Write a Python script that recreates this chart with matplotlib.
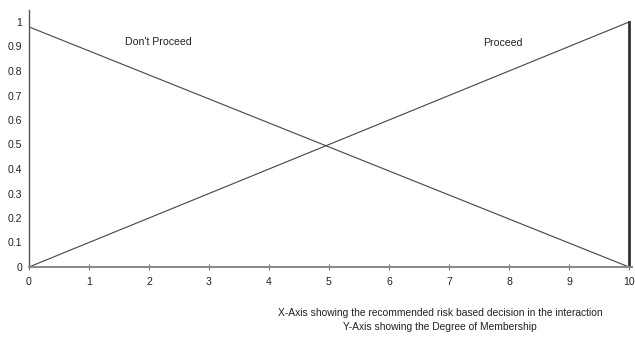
import matplotlib.pyplot as plt

plt.rcParams['font.family'] = ['Liberation Sans', 'DejaVu Sans']

# membership functions
x_pts = [0, 10]
dont_proceed = [0.98, 0.0]
proceed = [0.0, 1.0]
x_ticks = list(range(0, 11))
y_ticks = [0, 0.1, 0.2, 0.3, 0.4, 0.5, 0.6, 0.7, 0.8, 0.9, 1]
y_tick_labels = ['0', '0.1', '0.2', '0.3', '0.4', '0.5', '0.6', '0.7', '0.8', '0.9', '1']

fig = plt.figure(figsize=(6.35, 3.58), dpi=100)
ax = fig.add_axes([29 / 635, 1 - 267 / 358, 603 / 635, 257.25 / 358])

ax.plot(x_pts, dont_proceed, color='#444444', lw=0.8)
ax.plot(x_pts, proceed, color='#444444', lw=0.8)
ax.plot([10, 10], [0, 1], color='#333333', lw=2)

ax.text(1.6, 0.905, "Don't Proceed", fontsize=7.6, color='#222222')
ax.text(7.57, 0.9, 'Proceed', fontsize=7.6, color='#222222')

ax.set_xlim(0, 10.05)
ax.set_ylim(0, 1.05)
ax.set_xticks(x_ticks)
ax.set_yticks(y_ticks)
ax.set_yticklabels(y_tick_labels)
ax.tick_params(axis='x', direction='inout', length=4, width=0.8, color='#777777',
               labelsize=7.6, pad=5, labelcolor='#222222')
ax.tick_params(axis='y', length=0, labelsize=7.6, pad=5, labelcolor='#222222')

for s in ['top', 'right']:
    ax.spines[s].set_visible(False)
ax.spines['left'].set_color('#555555')
ax.spines['left'].set_linewidth(1.0)
ax.spines['bottom'].set_color('#888888')
ax.spines['bottom'].set_linewidth(1.4)

fig.text(440 / 635, 1 - 313 / 358, 'X-Axis showing the recommended risk based decision in the interaction',
         ha='center', va='center', fontsize=7.35, color='#222222')
fig.text(440 / 635, 1 - 327 / 358, 'Y-Axis showing the Degree of Membership',
         ha='center', va='center', fontsize=7.35, color='#222222')

fig.savefig('out.png', dpi=100)
